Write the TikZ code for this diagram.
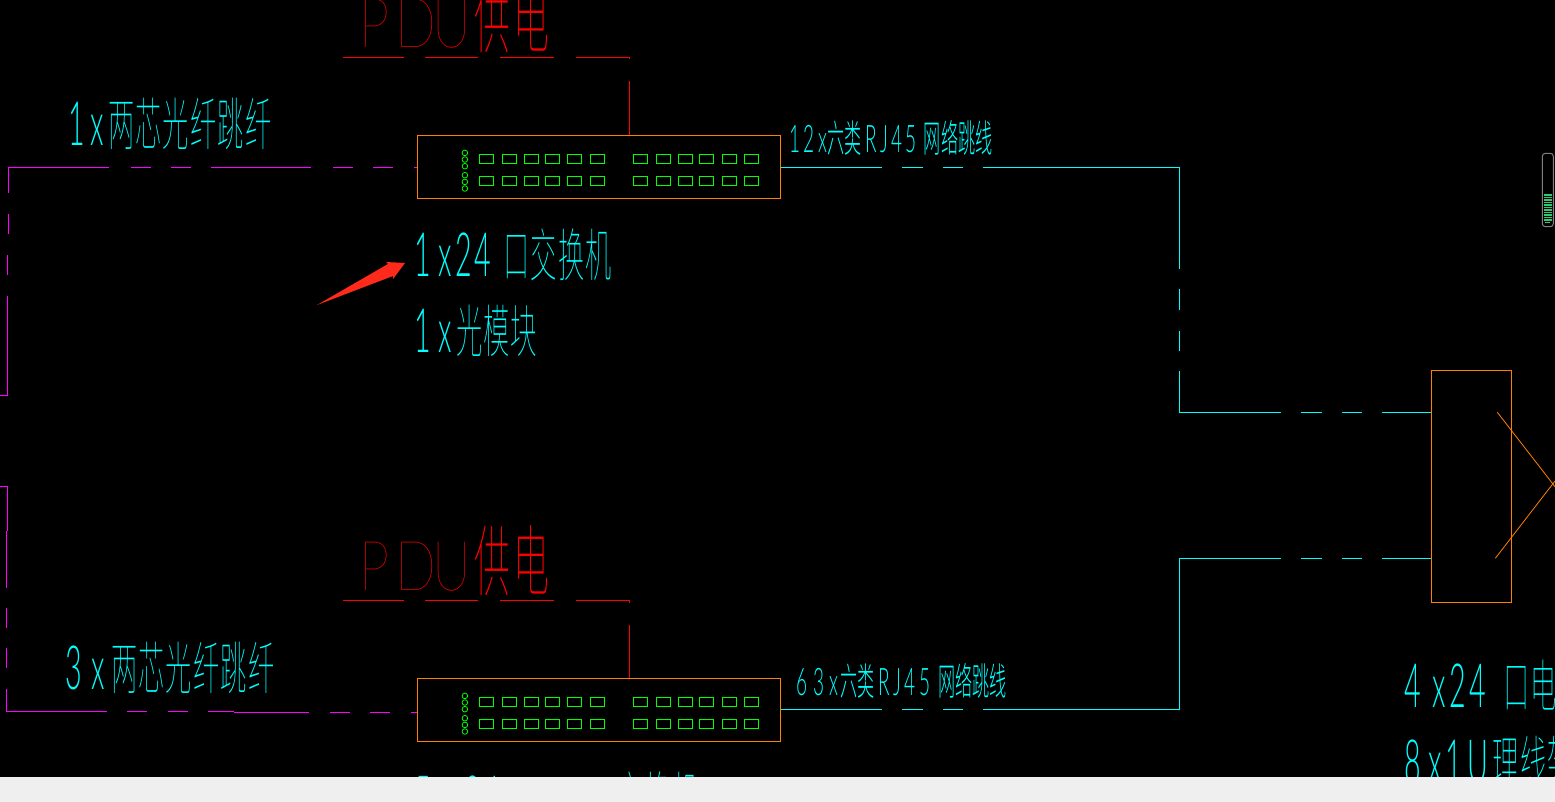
\documentclass[tikz,border=0pt]{standalone}
\usepackage{fontspec}
\newfontfamily\hanthin[FakeStretch=0.46,LetterSpace=2]{Noto Sans CJK SC Thin}
\newfontfamily\hansmall[FakeStretch=0.45]{Noto Sans CJK SC Light}
\newfontfamily\latbig[FakeStretch=0.47,LetterSpace=5]{Lato Light}
\newfontfamily\latsmall[FakeStretch=0.5,LetterSpace=9]{Lato Light}
\newfontfamily\latwide[FakeStretch=0.78]{Lato Thin}
\definecolor{cadcyan}{RGB}{0,255,255}
\definecolor{cadmagenta}{RGB}{255,0,255}
\definecolor{cadred}{RGB}{255,0,0}
\definecolor{cadorange}{RGB}{255,128,0}
\definecolor{cadgreen}{RGB}{0,255,0}
\definecolor{meterbar}{RGB}{46,204,113}
\definecolor{pointer}{RGB}{255,42,26}
\definecolor{windowedge}{RGB}{239,239,239}
\newcommand{\biglat}[1]{{\fontsize{61}{61}\selectfont\latbig #1}}
\newcommand{\pduword}{{\latwide P\hspace{6pt}D\hspace{-4pt}U}\hspace{4pt}{\fontsize{78}{78}\selectfont\hanthin 供\hspace{3pt}电}}
\tikzset{
    cadlabel/.style={text=cadcyan,anchor=base west,inner sep=0pt,font=\fontsize{57}{57}\selectfont},
    smalllabel/.style={text=cadcyan,anchor=base west,inner sep=0pt,font=\fontsize{38}{38}\selectfont},
    pdulabel/.style={text=cadred,anchor=base west,inner sep=0pt,font=\fontsize{69}{69}\selectfont},
    switchbox/.style={draw=cadorange,line width=1pt,minimum width=363pt,minimum height=63pt,inner sep=0pt},
    panelbox/.style={draw=cadorange,line width=1pt,minimum width=80pt,minimum height=232pt,inner sep=0pt},
    portbox/.style={draw=cadgreen,line width=1pt,minimum width=14pt,minimum height=9pt,inner sep=0pt},
    ledring/.style={draw=cadgreen,line width=.8pt,circle,minimum size=5.6pt,inner sep=0pt},
    fiber/.style={draw=cadmagenta,line width=1pt},
    power/.style={draw=cadred,line width=1pt},
    cable/.style={draw=cadcyan,line width=1pt}
}
\begin{document}
\begin{tikzpicture}[x=1pt,y=-1pt,node distance=543pt]
    \useasboundingbox (0,0) rectangle (1555,802);
    \fill[black] (0,0) rectangle (1555,802);
    \begin{scope}
    \clip (0,0) rectangle (1555,802);

    \node[switchbox] (sw1) at (599,167) {};
    \node[switchbox] (sw2) [below of=sw1] {};
    \node[panelbox] (panel) at (1471.5,486.5) {};

    \foreach \sw in {sw1,sw2} {
        \foreach \x [count=\i] in {-112.5,-89.5,-67.5,-46.5,-24.5,-1.5,41.5,64.5,86.5,107.5,130.5,152.5} {
            \node[portbox] (\sw-up-\i) at ([xshift=\x pt,yshift=8pt]\sw.center) {};
            \node[portbox] (\sw-low-\i) at ([xshift=\x pt,yshift=-14pt]\sw.center) {};
        }
        \foreach \y [count=\i] in {14.1,7.5,0.8,-8.2,-14.9,-21.5} {
            \node[ledring] (\sw-led-\i) at ([xshift=-134.1pt,yshift=\y pt]\sw.center) {};
        }
    }

    % power feeds
    \coordinate (pdu1) at (343,57.5);
    \coordinate (pdu1r) at (629.5,57.5);
    \coordinate (pdu2) at (343,600.5);
    \coordinate (pdu2r) at (629.5,600.5);
    \draw[power,dash pattern=on 61pt off 21pt on 53pt off 22pt on 54pt off 22pt on 55.5pt off 22pt on 60pt] (pdu1) -- (pdu1r) -- (pdu1r |- sw1.north);
    \draw[power,dash pattern=on 61pt off 21pt on 53pt off 22pt on 54pt off 22pt on 55.5pt off 22pt on 60pt] (pdu2) -- (pdu2r) -- (pdu2r |- sw2.north);

    % fibre runs
    \coordinate (f1) at (8.5,234);
    \coordinate (f1c) at (8.5,167.5);
    \coordinate (f2) at (0,395.5);
    \coordinate (f2c) at (7.5,395.5);
    \coordinate (f2e) at (7.5,254);
    \coordinate (f3) at (0,486.5);
    \coordinate (f3c) at (7.5,486.5);
    \coordinate (f3e) at (7.5,531);
    \coordinate (f4) at (6.5,531);
    \coordinate (f4c) at (6.5,711.5);
    \coordinate (f4e) at (234,711.5);
    \coordinate (f5) at (234,712.5);
    \draw[fiber,dash pattern=on 20pt off 21pt on 126pt off 22pt on 20pt off 20pt on 20pt off 20pt on 100pt off 22pt on 20pt off 20pt on 20pt off 21pt on 8pt] (f1) -- (f1c) -- (f1c -| sw1.west);
    \draw[fiber,dash pattern=on 107.3pt off 21pt on 20pt off 40pt] (f2) -- (f2c) -- (f2e);
    \draw[fiber] (f3) -- (f3c) -- (f3e);
    \draw[fiber,dash pattern=on 57pt off 20pt on 20pt off 20pt on 20pt off 21pt on 123pt off 20pt on 20pt off 21pt on 20pt off 20pt on 30pt] (f4) -- (f4c) -- (f4e);
    \draw[fiber,dash pattern=on 75pt off 21pt on 20pt off 20pt on 20pt off 21pt on 8pt] (f5) -- (f5 -| sw2.west);

    % copper runs
    \coordinate (c1) at (1179.5,167.5);
    \coordinate (c1l) at (1179.5,412.5);
    \coordinate (c2) at (1179.5,709.5);
    \coordinate (c2l) at (1179.5,558.5);
    \draw[cable,dash pattern=on 101pt off 20pt on 21pt off 20pt on 20pt off 20pt on 298pt off 20.5pt on 20.5pt off 20.5pt on 20pt off 20pt on 143pt off 20pt on 21pt off 20pt on 20pt off 20pt on 60pt] (sw1.east |- c1) -- (c1) -- (c1l) -- (c1l -| panel.west);
    \draw[cable,dash pattern=on 101pt off 20pt on 21pt off 20pt on 20pt off 20pt on 449pt off 20pt on 21pt off 20pt on 20pt off 20pt on 60pt] (sw2.east |- c2) -- (c2) -- (c2l) -- (c2l -| panel.west);

    % cross at the panel
    \coordinate (x1) at (1497.3,412.3);
    \coordinate (x2) at (1495.3,558.3);
    \coordinate (x3) at (1555,486.7);
    \coordinate (x4) at (1555,481);
    \draw[cadorange,line width=.8pt] (x1) -- (x3);
    \draw[cadorange,line width=.8pt] (x2) -- (x4);

    % labels
    \node[pdulabel] (pdutop) at (359,48) {\pduword};
    \node[pdulabel] (pdulow) at (359,590) {\pduword};
    \node[cadlabel] (fibtop) at (68,146) {\biglat{1\hspace{6pt}x}\hspace{4pt}\hanthin 两芯光纤跳纤};
    \node[cadlabel] (fiblow) at (65,689) {\biglat{3\hspace{10pt}x}\hspace{6pt}\hanthin 两芯光纤跳纤};
    \node[cadlabel] (swname) at (414,276.7) {\biglat{1\hspace{8pt}x24}\hspace{12pt}\hanthin 口交换机};
    \node[cadlabel] (module) at (414,352.7) {\biglat{1\hspace{8pt}x}\hspace{4pt}\hanthin 光模块};
    \node[cadlabel] (swnext) at (414,819.7) {\biglat{5\hspace{17pt}x24}\hspace{90pt}\hanthin 口交换机};
    \node[smalllabel] (cattop) at (789,153) {{\latsmall 12x}\hansmall 六类\hspace{4pt}{\latsmall RJ45}\hspace{7pt}\hansmall 网络跳线};
    \node[smalllabel] (catlow) at (796,695) {{\latsmall 6\hspace{6pt}3\hspace{5pt}x}\hspace{2pt}\hansmall 六类\hspace{4pt}{\latsmall RJ45}\hspace{8pt}\hansmall 网络跳线};
    \node[cadlabel] (panelname) at (1404,707.7) {\biglat{4\hspace{12pt}x24}\hspace{18pt}\hanthin 口电};
    \node[cadlabel] (panelnext) at (1404,783) {\biglat{8\hspace{8pt}x1\hspace{6pt}U}\hspace{4pt}\hanthin 理线架};

    % pointer
    \fill[pointer] (317,305) -- (388,264) -- (386,262) -- (405,263) -- (393,279) -- (393,276) -- cycle;

    % level meter
    \node[draw=gray,line width=1pt,rounded corners=3pt,minimum width=11pt,minimum height=73.4pt,inner sep=0pt] (meter) at (1547.8,190) {};
    \foreach \y in {195,197.5,...,220} {
        \draw[meterbar,line width=1.3pt] (1544,\y) -- (1552,\y);
    }
    \draw[meterbar,line width=1.3pt] (1545,222.5) -- (1550,222.5);

    % window edge
    \fill[windowedge] (0,777) rectangle (1555,802);
    \end{scope}
\end{tikzpicture}
\end{document}
